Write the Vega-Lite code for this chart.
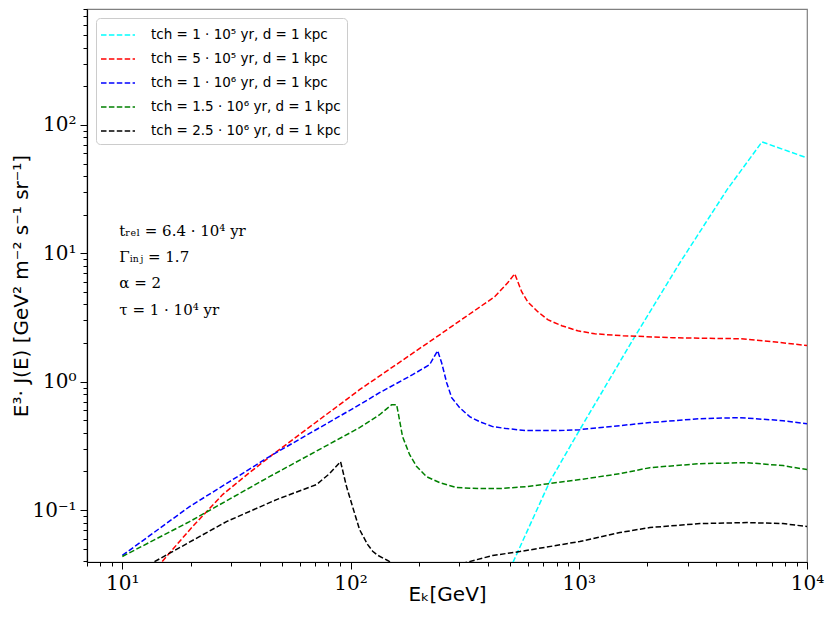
{
  "$schema": "https://vega.github.io/schema/vega-lite/v6.json",
  "width": 720,
  "height": 553,
  "autosize": {"type": "none"},
  "padding": {"left": 87, "top": 9, "right": 23, "bottom": 63},
  "background": "white",
  "config": {
    "view": {"stroke": "#808080", "strokeWidth": 1.2},
    "axis": {"grid": false}
  },
  "layer": [
    {
      "data": {
        "values": [
          {"series": "tch = 1 · 10⁵ yr, d = 1 kpc", "E": 498, "J": 0.0344},
          {"series": "tch = 1 · 10⁵ yr, d = 1 kpc", "E": 746, "J": 0.1666},
          {"series": "tch = 1 · 10⁵ yr, d = 1 kpc", "E": 1010, "J": 0.423},
          {"series": "tch = 1 · 10⁵ yr, d = 1 kpc", "E": 1726, "J": 2.12},
          {"series": "tch = 1 · 10⁵ yr, d = 1 kpc", "E": 2773, "J": 8.44},
          {"series": "tch = 1 · 10⁵ yr, d = 1 kpc", "E": 4457, "J": 31.2},
          {"series": "tch = 1 · 10⁵ yr, d = 1 kpc", "E": 6350, "J": 73.8},
          {"series": "tch = 1 · 10⁵ yr, d = 1 kpc", "E": 10000, "J": 55.4},

          {"series": "tch = 5 · 10⁵ yr, d = 1 kpc", "E": 14.2, "J": 0.0357},
          {"series": "tch = 5 · 10⁵ yr, d = 1 kpc", "E": 16.6, "J": 0.0493},
          {"series": "tch = 5 · 10⁵ yr, d = 1 kpc", "E": 20.3, "J": 0.0744},
          {"series": "tch = 5 · 10⁵ yr, d = 1 kpc", "E": 27.5, "J": 0.132},
          {"series": "tch = 5 · 10⁵ yr, d = 1 kpc", "E": 36.1, "J": 0.196},
          {"series": "tch = 5 · 10⁵ yr, d = 1 kpc", "E": 45.5, "J": 0.27},
          {"series": "tch = 5 · 10⁵ yr, d = 1 kpc", "E": 59.7, "J": 0.387},
          {"series": "tch = 5 · 10⁵ yr, d = 1 kpc", "E": 109.5, "J": 0.866},
          {"series": "tch = 5 · 10⁵ yr, d = 1 kpc", "E": 245.7, "J": 2.32},
          {"series": "tch = 5 · 10⁵ yr, d = 1 kpc", "E": 428, "J": 4.59},
          {"series": "tch = 5 · 10⁵ yr, d = 1 kpc", "E": 488, "J": 5.89},
          {"series": "tch = 5 · 10⁵ yr, d = 1 kpc", "E": 524, "J": 6.93},
          {"series": "tch = 5 · 10⁵ yr, d = 1 kpc", "E": 562, "J": 5.02},
          {"series": "tch = 5 · 10⁵ yr, d = 1 kpc", "E": 597.5, "J": 4.19},
          {"series": "tch = 5 · 10⁵ yr, d = 1 kpc", "E": 661, "J": 3.51},
          {"series": "tch = 5 · 10⁵ yr, d = 1 kpc", "E": 731, "J": 3.04},
          {"series": "tch = 5 · 10⁵ yr, d = 1 kpc", "E": 842, "J": 2.73},
          {"series": "tch = 5 · 10⁵ yr, d = 1 kpc", "E": 990, "J": 2.49},
          {"series": "tch = 5 · 10⁵ yr, d = 1 kpc", "E": 1175, "J": 2.36},
          {"series": "tch = 5 · 10⁵ yr, d = 1 kpc", "E": 1560, "J": 2.28},
          {"series": "tch = 5 · 10⁵ yr, d = 1 kpc", "E": 2584, "J": 2.2},
          {"series": "tch = 5 · 10⁵ yr, d = 1 kpc", "E": 5083, "J": 2.16},
          {"series": "tch = 5 · 10⁵ yr, d = 1 kpc", "E": 7096, "J": 2.05},
          {"series": "tch = 5 · 10⁵ yr, d = 1 kpc", "E": 10000, "J": 1.91},

          {"series": "tch = 1 · 10⁶ yr, d = 1 kpc", "E": 10, "J": 0.0443},
          {"series": "tch = 1 · 10⁶ yr, d = 1 kpc", "E": 19.7, "J": 0.1064},
          {"series": "tch = 1 · 10⁶ yr, d = 1 kpc", "E": 29.5, "J": 0.1666},
          {"series": "tch = 1 · 10⁶ yr, d = 1 kpc", "E": 44.1, "J": 0.261},
          {"series": "tch = 1 · 10⁶ yr, d = 1 kpc", "E": 109.5, "J": 0.662},
          {"series": "tch = 1 · 10⁶ yr, d = 1 kpc", "E": 134, "J": 0.821},
          {"series": "tch = 1 · 10⁶ yr, d = 1 kpc", "E": 187, "J": 1.134},
          {"series": "tch = 1 · 10⁶ yr, d = 1 kpc", "E": 222, "J": 1.356},
          {"series": "tch = 1 · 10⁶ yr, d = 1 kpc", "E": 240.7, "J": 1.743},
          {"series": "tch = 1 · 10⁶ yr, d = 1 kpc", "E": 250.6, "J": 1.406},
          {"series": "tch = 1 · 10⁶ yr, d = 1 kpc", "E": 263.7, "J": 0.982},
          {"series": "tch = 1 · 10⁶ yr, d = 1 kpc", "E": 277.3, "J": 0.751},
          {"series": "tch = 1 · 10⁶ yr, d = 1 kpc", "E": 300.6, "J": 0.628},
          {"series": "tch = 1 · 10⁶ yr, d = 1 kpc", "E": 332.6, "J": 0.534},
          {"series": "tch = 1 · 10⁶ yr, d = 1 kpc", "E": 368, "J": 0.488},
          {"series": "tch = 1 · 10⁶ yr, d = 1 kpc", "E": 419.6, "J": 0.4467},
          {"series": "tch = 1 · 10⁶ yr, d = 1 kpc", "E": 483, "J": 0.431},
          {"series": "tch = 1 · 10⁶ yr, d = 1 kpc", "E": 591, "J": 0.416},
          {"series": "tch = 1 · 10⁶ yr, d = 1 kpc", "E": 826, "J": 0.416},
          {"series": "tch = 1 · 10⁶ yr, d = 1 kpc", "E": 1010, "J": 0.423},
          {"series": "tch = 1 · 10⁶ yr, d = 1 kpc", "E": 2049, "J": 0.48},
          {"series": "tch = 1 · 10⁶ yr, d = 1 kpc", "E": 3396, "J": 0.515},
          {"series": "tch = 1 · 10⁶ yr, d = 1 kpc", "E": 5083, "J": 0.525},
          {"series": "tch = 1 · 10⁶ yr, d = 1 kpc", "E": 7848, "J": 0.497},
          {"series": "tch = 1 · 10⁶ yr, d = 1 kpc", "E": 10000, "J": 0.471},

          {"series": "tch = 1.5 · 10⁶ yr, d = 1 kpc", "E": 10, "J": 0.0435},
          {"series": "tch = 1.5 · 10⁶ yr, d = 1 kpc", "E": 19.7, "J": 0.0813},
          {"series": "tch = 1.5 · 10⁶ yr, d = 1 kpc", "E": 44.1, "J": 0.182},
          {"series": "tch = 1.5 · 10⁶ yr, d = 1 kpc", "E": 109.5, "J": 0.4385},
          {"series": "tch = 1.5 · 10⁶ yr, d = 1 kpc", "E": 134, "J": 0.553},
          {"series": "tch = 1.5 · 10⁶ yr, d = 1 kpc", "E": 151.3, "J": 0.662},
          {"series": "tch = 1.5 · 10⁶ yr, d = 1 kpc", "E": 159.1, "J": 0.662},
          {"series": "tch = 1.5 · 10⁶ yr, d = 1 kpc", "E": 160.7, "J": 0.606},
          {"series": "tch = 1.5 · 10⁶ yr, d = 1 kpc", "E": 169, "J": 0.373},
          {"series": "tch = 1.5 · 10⁶ yr, d = 1 kpc", "E": 181.5, "J": 0.27},
          {"series": "tch = 1.5 · 10⁶ yr, d = 1 kpc", "E": 194.8, "J": 0.218},
          {"series": "tch = 1.5 · 10⁶ yr, d = 1 kpc", "E": 215.4, "J": 0.182},
          {"series": "tch = 1.5 · 10⁶ yr, d = 1 kpc", "E": 245.7, "J": 0.1637},
          {"series": "tch = 1.5 · 10⁶ yr, d = 1 kpc", "E": 291.7, "J": 0.1497},
          {"series": "tch = 1.5 · 10⁶ yr, d = 1 kpc", "E": 368, "J": 0.147},
          {"series": "tch = 1.5 · 10⁶ yr, d = 1 kpc", "E": 450, "J": 0.147},
          {"series": "tch = 1.5 · 10⁶ yr, d = 1 kpc", "E": 591, "J": 0.1524},
          {"series": "tch = 1.5 · 10⁶ yr, d = 1 kpc", "E": 1010, "J": 0.1727},
          {"series": "tch = 1.5 · 10⁶ yr, d = 1 kpc", "E": 1514, "J": 0.192},
          {"series": "tch = 1.5 · 10⁶ yr, d = 1 kpc", "E": 2049, "J": 0.214},
          {"series": "tch = 1.5 · 10⁶ yr, d = 1 kpc", "E": 3396, "J": 0.23},
          {"series": "tch = 1.5 · 10⁶ yr, d = 1 kpc", "E": 5456, "J": 0.234},
          {"series": "tch = 1.5 · 10⁶ yr, d = 1 kpc", "E": 7848, "J": 0.222},
          {"series": "tch = 1.5 · 10⁶ yr, d = 1 kpc", "E": 10000, "J": 0.2066},

          {"series": "tch = 2.5 · 10⁶ yr, d = 1 kpc", "E": 12.9, "J": 0.037},
          {"series": "tch = 2.5 · 10⁶ yr, d = 1 kpc", "E": 16.6, "J": 0.0475},
          {"series": "tch = 2.5 · 10⁶ yr, d = 1 kpc", "E": 28.6, "J": 0.0813},
          {"series": "tch = 2.5 · 10⁶ yr, d = 1 kpc", "E": 47.4, "J": 0.1207},
          {"series": "tch = 2.5 · 10⁶ yr, d = 1 kpc", "E": 70.9, "J": 0.158},
          {"series": "tch = 2.5 · 10⁶ yr, d = 1 kpc", "E": 80.9, "J": 0.1923},
          {"series": "tch = 2.5 · 10⁶ yr, d = 1 kpc", "E": 90.4, "J": 0.2384},
          {"series": "tch = 2.5 · 10⁶ yr, d = 1 kpc", "E": 96.0, "J": 0.1524},
          {"series": "tch = 2.5 · 10⁶ yr, d = 1 kpc", "E": 102, "J": 0.1065},
          {"series": "tch = 2.5 · 10⁶ yr, d = 1 kpc", "E": 109.5, "J": 0.0705},
          {"series": "tch = 2.5 · 10⁶ yr, d = 1 kpc", "E": 118.7, "J": 0.054},
          {"series": "tch = 2.5 · 10⁶ yr, d = 1 kpc", "E": 125, "J": 0.0478},
          {"series": "tch = 2.5 · 10⁶ yr, d = 1 kpc", "E": 131.3, "J": 0.0445},
          {"series": "tch = 2.5 · 10⁶ yr, d = 1 kpc", "E": 145.3, "J": 0.0405},
          {"series": "tch = 2.5 · 10⁶ yr, d = 1 kpc", "E": 164, "J": 0.0357},
          {"series": "tch = 2.5 · 10⁶ yr, d = 1 kpc", "E": 285.8, "J": 0.037},
          {"series": "tch = 2.5 · 10⁶ yr, d = 1 kpc", "E": 419.6, "J": 0.0443},
          {"series": "tch = 2.5 · 10⁶ yr, d = 1 kpc", "E": 551, "J": 0.0475},
          {"series": "tch = 2.5 · 10⁶ yr, d = 1 kpc", "E": 1010, "J": 0.0569},
          {"series": "tch = 2.5 · 10⁶ yr, d = 1 kpc", "E": 1514, "J": 0.0668},
          {"series": "tch = 2.5 · 10⁶ yr, d = 1 kpc", "E": 2049, "J": 0.0731},
          {"series": "tch = 2.5 · 10⁶ yr, d = 1 kpc", "E": 3396, "J": 0.0785},
          {"series": "tch = 2.5 · 10⁶ yr, d = 1 kpc", "E": 5456, "J": 0.0799},
          {"series": "tch = 2.5 · 10⁶ yr, d = 1 kpc", "E": 7848, "J": 0.0785},
          {"series": "tch = 2.5 · 10⁶ yr, d = 1 kpc", "E": 10000, "J": 0.0744}
        ]
      },
      "mark": {"type": "line", "strokeDash": [5.5, 2.4], "strokeWidth": 1.5, "clip": true},
      "encoding": {
        "x": {
          "field": "E",
          "type": "quantitative",
          "scale": {"type": "log", "domain": [7, 10000], "nice": false},
          "axis": {
            "title": "Eₖ[GeV]",
            "titleFont": "DejaVu Sans",
            "titleFontSize": 20,
            "titleFontWeight": "normal",
            "titleColor": "black",
            "titleY": 22,
            "titleBaseline": "top",
            "values": [7, 8, 9, 10, 20, 30, 40, 50, 60, 70, 80, 90, 100, 200, 300, 400, 500, 600, 700, 800, 900, 1000, 2000, 3000, 4000, 5000, 6000, 7000, 8000, 9000, 10000],
            "labelExpr": "datum.value == 10 ? '10¹' : datum.value == 100 ? '10²' : datum.value == 1000 ? '10³' : datum.value == 10000 ? '10⁴' : ''",
            "labelFont": "DejaVu Serif",
            "labelFontSize": 20,
            "labelColor": "black",
            "labelOverlap": false,
            "labelFlush": false,
            "labelPadding": 4,
            "domainColor": "black",
            "domainWidth": 1.2,
            "tickColor": "black",
            "tickWidth": 1,
            "tickSize": {"condition": {"test": "datum.value == 10 || datum.value == 100 || datum.value == 1000 || datum.value == 10000", "value": 7}, "value": 4}
          }
        },
        "y": {
          "field": "J",
          "type": "quantitative",
          "scale": {"type": "log", "domain": [0.0394, 800], "nice": false},
          "axis": {
            "title": "E³· J(E) [GeV² m⁻² s⁻¹ sr⁻¹]",
            "titleFont": "DejaVu Sans",
            "titleFontSize": 20,
            "titleFontWeight": "normal",
            "titleColor": "black",
            "titleX": -56,
            "values": [0.04, 0.05, 0.06, 0.07, 0.08, 0.09, 0.1, 0.2, 0.3, 0.4, 0.5, 0.6, 0.7, 0.8, 0.9, 1, 2, 3, 4, 5, 6, 7, 8, 9, 10, 20, 30, 40, 50, 60, 70, 80, 90, 100, 200, 300, 400, 500, 600, 700, 800],
            "labelExpr": "datum.value == 0.1 ? '10⁻¹' : datum.value == 1 ? '10⁰' : datum.value == 10 ? '10¹' : datum.value == 100 ? '10²' : ''",
            "labelFont": "DejaVu Serif",
            "labelFontSize": 20,
            "labelColor": "black",
            "labelOverlap": false,
            "labelFlush": false,
            "labelPadding": 4,
            "domainColor": "black",
            "domainWidth": 1.2,
            "tickColor": "black",
            "tickWidth": 1,
            "tickSize": {"condition": {"test": "datum.value == 0.1 || datum.value == 1 || datum.value == 10 || datum.value == 100", "value": 7}, "value": 4}
          }
        },
        "color": {
          "field": "series",
          "type": "nominal",
          "scale": {
            "domain": [
              "tch = 1 · 10⁵ yr, d = 1 kpc",
              "tch = 5 · 10⁵ yr, d = 1 kpc",
              "tch = 1 · 10⁶ yr, d = 1 kpc",
              "tch = 1.5 · 10⁶ yr, d = 1 kpc",
              "tch = 2.5 · 10⁶ yr, d = 1 kpc"
            ],
            "range": ["#00ffff", "#ff0000", "#0000ff", "#008000", "#000000"]
          },
          "legend": {
            "title": null,
            "orient": "top-left",
            "offset": 9,
            "symbolType": "M-1.7,0H1.7",
            "symbolStrokeWidth": 1.5,
            "symbolDash": [5.5, 2.4],
            "symbolSize": 400,
            "symbolOffset": 5,
            "labelFont": "DejaVu Sans",
            "labelFontSize": 13.5,
            "labelColor": "black",
            "labelLimit": 300,
            "labelOffset": 22,
            "rowPadding": 6,
            "strokeColor": "#cccccc",
            "fillColor": "white",
            "cornerRadius": 4,
            "padding": 6
          }
        }
      }
    },
    {
      "data": {
        "values": [
          {"E": 9.7, "J": 14.96, "label": "tᵣₑₗ = 6.4 · 10⁴ yr"},
          {"E": 9.7, "J": 9.39, "label": "Γᵢₙⱼ = 1.7"},
          {"E": 9.7, "J": 5.89, "label": "α = 2"},
          {"E": 9.7, "J": 3.64, "label": "τ = 1 · 10⁴ yr"}
        ]
      },
      "mark": {"type": "text", "align": "left", "baseline": "middle", "font": "DejaVu Serif", "fontSize": 15, "color": "black"},
      "encoding": {
        "x": {"field": "E", "type": "quantitative"},
        "y": {"field": "J", "type": "quantitative"},
        "text": {"field": "label", "type": "nominal"}
      }
    }
  ]
}
